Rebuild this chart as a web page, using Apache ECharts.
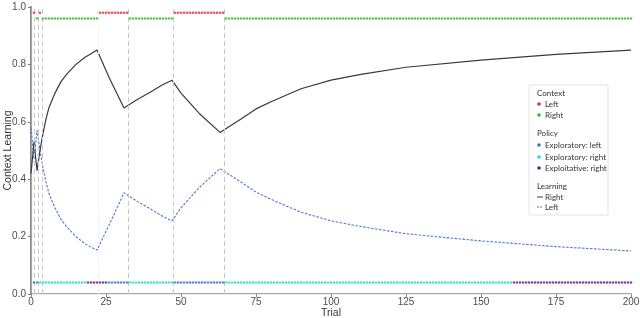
<!DOCTYPE html>
<html>
<head>
<meta charset="utf-8">
<script src="https://cdn.jsdelivr.net/npm/echarts@6/dist/echarts.min.js"></script>
<style>html,body{margin:0;padding:0;background:#fff}#c{width:640px;height:318px}</style>
</head>
<body>
<div id="c"></div>
<script>
// ---- data ----
var xTicks = [0, 25, 50, 75, 100, 125, 150, 175, 200];
var yTicks = [0.0, 0.2, 0.4, 0.6, 0.8, 1.0];

var learnTrials = [0,1,2,3,4,5,6,8,10,12,15,18,20,22,26,31,35,40,44,47,50,56,63,70,75,80,90,100,110,125,150,175,200];
var learnRight  = [0.42,0.53,0.43,0.50,0.56,0.61,0.65,0.70,0.74,0.767,0.80,0.825,0.837,0.85,0.755,0.648,0.675,0.705,0.73,0.745,0.70,0.63,0.563,0.61,0.645,0.67,0.715,0.745,0.765,0.79,0.815,0.835,0.85];
var learnLeft   = [0.58,0.47,0.57,0.50,0.44,0.39,0.35,0.30,0.26,0.233,0.20,0.175,0.163,0.153,0.24,0.353,0.325,0.295,0.27,0.255,0.30,0.37,0.437,0.39,0.355,0.33,0.285,0.255,0.235,0.21,0.185,0.165,0.15];

// context per trial, as runs [firstTrial, lastTrial, context]
var contextRuns = [[1,1,'Left'],[2,2,'Right'],[3,3,'Left'],[4,22,'Right'],[23,32,'Left'],[33,47,'Right'],[48,64,'Left'],[65,200,'Right']];
// policy per trial, as runs [firstTrial, lastTrial, policy]
var policyRuns = [[1,2,'Exploratory: left'],[3,18,'Exploratory: right'],[19,25,'Exploitative: right'],[26,32,'Exploratory: left'],[33,47,'Exploratory: right'],[48,64,'Exploratory: left'],[65,160,'Exploratory: right'],[161,200,'Exploitative: right']];
// context switch lines
var switchTrials = [1.1, 2.4, 3.6, 32.5, 47.5, 64.5];
var faintSwitchTrials = [22.5];

var contextNames = ['Left', 'Right'];
var policyNames = ['Exploratory: left', 'Exploratory: right', 'Exploitative: right'];

// ---- styling ----
var contextLevel = {'Left': 0.98, 'Right': 0.96};
var policyLevel = 0.04;
var contextColors = {'Left': '#e8283a', 'Right': '#33bb33'};
var policyColors = {'Exploratory: left': '#3f6fd8', 'Exploratory: right': '#22dcc4', 'Exploitative: right': '#6a1b8a'};
var blackCol = '#3a3a3a', blueCol = '#4a78d0';

function expand(runs, name, level) {
  var out = [];
  runs.forEach(function (r) {
    if (r[2] !== name) return;
    for (var t = r[0]; t <= r[1]; t++) out.push([t, level]);
  });
  return out;
}
function pairs(xs, ys) { return xs.map(function (x, i) { return [x, ys[i]]; }); }

var series = [];
series.push({
  type: 'line', name: 'Learning: Left', data: pairs(learnTrials, learnLeft),
  showSymbol: false, symbol: 'none', lineStyle: {color: blueCol, width: 1.1, type: [2.5, 1.5]}, z: 3,
  markLine: {
    silent: true, symbol: 'none', label: {show: false},
    lineStyle: {color: '#c8c8c8', type: [5, 3], width: 1},
    data: switchTrials.map(function (t) { return {xAxis: t}; }).concat(
      faintSwitchTrials.map(function (t) { return {xAxis: t, lineStyle: {color: '#f0f0f0', type: [5,3], width: 1}}; }))
  }
});
series.push({
  type: 'line', name: 'Learning: Right', data: pairs(learnTrials, learnRight),
  showSymbol: false, symbol: 'none', lineStyle: {color: blackCol, width: 1.2}, z: 4
});
contextNames.forEach(function (n) {
  series.push({type: 'scatter', name: 'Context: ' + n, data: expand(contextRuns, n, contextLevel[n]),
    symbolSize: 2.6, itemStyle: {color: contextColors[n]}, z: 5});
});
policyNames.forEach(function (n) {
  series.push({type: 'scatter', name: 'Policy: ' + n, data: expand(policyRuns, n, policyLevel),
    symbolSize: 2.6, itemStyle: {color: policyColors[n]}, z: 5});
});

// legend drawn as graphic
var lg = [];
var lx = 529, ly = 85;
lg.push({type: 'rect', shape: {x: lx, y: ly, width: 79, height: 130}, style: {fill: '#fff', stroke: '#e4e4e4', lineWidth: 1}, z: 10});
var font = 'Lato, "Open Sans", sans-serif';
function ttl(txt, y) { lg.push({type: 'text', x: lx + 8, y: y, style: {text: txt, fill: '#333', font: '8px ' + font, textVerticalAlign: 'middle'}, z: 11}); }
function itm(txt, y) { lg.push({type: 'text', x: lx + 16, y: y, style: {text: txt, fill: '#333', font: '8px ' + font, textVerticalAlign: 'middle'}, z: 11}); }
function dot(col, y) { lg.push({type: 'circle', shape: {cx: lx + 10, cy: y, r: 1.8}, style: {fill: col}, z: 11}); }
ttl('Context', 93);
dot(contextColors['Left'], 104); itm('Left', 104);
dot(contextColors['Right'], 115); itm('Right', 115);
ttl('Policy', 133);
dot(policyColors['Exploratory: left'], 145); itm('Exploratory: left', 145);
dot(policyColors['Exploratory: right'], 157); itm('Exploratory: right', 157);
dot(policyColors['Exploitative: right'], 168); itm('Exploitative: right', 168);
ttl('Learning', 186);
lg.push({type: 'line', shape: {x1: lx + 8, y1: 197, x2: lx + 14, y2: 197}, style: {stroke: blackCol, lineWidth: 1}, z: 11}); itm('Right', 197);
lg.push({type: 'line', shape: {x1: lx + 8, y1: 207, x2: lx + 14, y2: 207}, style: {stroke: blueCol, lineWidth: 1, lineDash: [2, 1]}, z: 11}); itm('Left', 207);

var axisFont = '"Liberation Sans", Arial, sans-serif';
var option = {
  animation: false,
  backgroundColor: '#fff',
  grid: {left: 31, right: 9, top: 7, bottom: 24, containLabel: false, outerBoundsMode: 'none'},
  xAxis: [{
    type: 'value', min: 0, max: 200, interval: 25,
    name: 'Trial', nameLocation: 'middle', nameGap: 14, nameMoveOverlap: false,
    nameTextStyle: {color: '#333', fontSize: 10.5, fontFamily: axisFont},
    axisLine: {show: true, onZero: false, lineStyle: {color: '#8a8a8a', width: 1.5}},
    axisTick: {show: true, length: 3, lineStyle: {color: '#8a8a8a'}},
    axisLabel: {color: '#4d4d4d', fontSize: 10, margin: 3, fontFamily: axisFont,
      formatter: function (v) { return xTicks.indexOf(v) >= 0 ? String(v) : ''; }},
    splitLine: {show: false}
  }, {
    type: 'value', min: 0, max: 200, position: 'top',
    axisLine: {show: true, lineStyle: {color: '#eeeeee', width: 1}},
    axisTick: {show: false}, axisLabel: {show: false}, splitLine: {show: false}
  }],
  yAxis: [{
    type: 'value', min: 0, max: 1, interval: 0.2,
    name: 'Context Learning', nameLocation: 'middle', nameGap: 17, nameMoveOverlap: false,
    nameTextStyle: {color: '#333', fontSize: 10.5, fontFamily: axisFont},
    axisLine: {show: true, onZero: false, lineStyle: {color: '#777', width: 1.8}},
    axisTick: {show: true, length: 3, lineStyle: {color: '#777'}},
    axisLabel: {color: '#4d4d4d', fontSize: 10, margin: 5, fontFamily: axisFont,
      formatter: function (v) { return yTicks.some(function (t) { return Math.abs(t - v) < 1e-9; }) ? v.toFixed(1) : ''; }},
    splitLine: {show: false}
  }, {
    type: 'value', min: 0, max: 1, position: 'right',
    axisLine: {show: true, lineStyle: {color: '#a8a8a8', width: 1.2}},
    axisTick: {show: false}, axisLabel: {show: false}, splitLine: {show: false}
  }],
  series: series,
  graphic: lg
};
var chart = echarts.init(document.getElementById('c'), null, {renderer: 'canvas'});
chart.setOption(option);
</script>
</body>
</html>
